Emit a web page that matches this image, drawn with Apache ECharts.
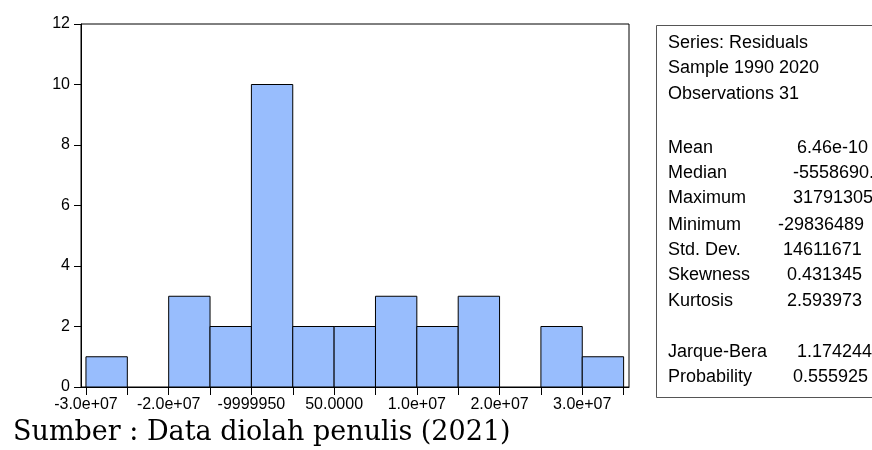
<!DOCTYPE html>
<html>
<head>
    <meta charset="utf-8" />
    <title>Histogram residuals</title>
    <script src="https://cdn.jsdelivr.net/npm/echarts@6/dist/echarts.min.js"></script>
    <style>
        body { margin: 0; background: #fff; }
    </style>
</head>
<body>
    <div id="main" style="width: 872px;height:450px;"></div>
    <script type="text/javascript">
        // bin edges (EViews bins, width 5e6)
        var binStarts = [-30000000, -25000000, -20000000, -15000000, -10000000, -5000000, 0,
            5000000, 10000000, 15000000, 20000000, 25000000, 30000000];
        var binEnds = [-25000000, -20000000, -15000000, -10000000, -5000000, 0, 5000000,
            10000000, 15000000, 20000000, 25000000, 30000000, 35000000];
        var counts = [1, 0, 3, 2, 10, 2, 2, 3, 2, 3, 0, 2, 1];

        var xTickValues = binStarts.concat([35000000]);
        var xLabelValues = [-30000000, -20000000, -10000000, 0, 10000000, 20000000, 30000000];
        var xLabelTexts = ['-3.0e+07', '-2.0e+07', '-9999950', '50.0000', '1.0e+07', '2.0e+07', '3.0e+07'];

        var statNames = ['Mean', 'Median', 'Maximum', 'Minimum', 'Std. Dev.', 'Skewness', 'Kurtosis', 'Jarque-Bera', 'Probability'];
        var statValues = ['6.46e-10', '-5558690.', '31791305', '-29836489', '14611671', '0.431345', '2.593973', '1.174244', '0.555925'];
        var headerLines = ['Series: Residuals', 'Sample 1990 2020', 'Observations 31'];

        var myChart = echarts.init(document.getElementById('main'));

        var data = [];
        for (var i = 0; i < counts.length; i++) {
            data.push([binStarts[i], binEnds[i], counts[i]]);
        }

        // stats box text
        var statY = [148, 173, 198, 225, 250, 275, 301, 352, 377];
        var statX = [797, 793, 793, 778, 783, 787, 787, 797, 793];
        var graphics = [{
            type: 'rect',
            shape: { x: 656.5, y: 25.5, width: 240, height: 372 },
            style: { fill: '#fff', stroke: '#555', lineWidth: 1 }
        }];
        headerLines.forEach(function (t, k) {
            graphics.push({
                type: 'text', x: 668, y: [43, 68, 94][k],
                style: { text: t, font: '18px "Liberation Sans", Arial', fill: '#000', verticalAlign: 'middle' }
            });
        });
        statNames.forEach(function (t, k) {
            graphics.push({
                type: 'text', x: 668, y: statY[k],
                style: { text: t, font: '18px "Liberation Sans", Arial', fill: '#000', verticalAlign: 'middle' }
            });
            graphics.push({
                type: 'text', x: statX[k], y: statY[k],
                style: { text: statValues[k], font: '18px "Liberation Sans", Arial', fill: '#000', verticalAlign: 'middle' }
            });
        });

        var option = {
            animation: false,
            title: {
                text: 'Sumber : Data diolah penulis (2021)',
                left: 8, top: 414,
                textStyle: { fontFamily: 'DejaVu Serif', fontSize: 27, fontWeight: 'normal', color: '#000' }
            },
            grid: {
                left: 81, right: 243, top: 24, bottom: 63,
                show: true, borderColor: '#000', borderWidth: 1, backgroundColor: '#fff'
            },
            xAxis: {
                type: 'value',
                min: -30600000, max: 35650000,
                splitLine: { show: false },
                axisLine: { onZero: false, lineStyle: { color: '#000' } },
                axisTick: { length: 8, lineStyle: { color: '#000' }, customValues: xTickValues },
                axisLabel: {
                    customValues: xLabelValues,
                    fontFamily: 'Liberation Sans', fontSize: 16, color: '#000', margin: 10,
                    formatter: function (v) {
                        var idx = xLabelValues.indexOf(v);
                        return idx >= 0 ? xLabelTexts[idx] : '';
                    }
                }
            },
            yAxis: {
                type: 'value',
                min: 0, max: 12, interval: 2,
                splitLine: { show: false },
                axisLine: { show: true, onZero: false, lineStyle: { color: '#000' } },
                axisTick: { show: true, length: 7, lineStyle: { color: '#000' } },
                axisLabel: { fontFamily: 'Liberation Sans', fontSize: 16, color: '#000', margin: 11 }
            },
            series: [{
                type: 'custom',
                data: data,
                encode: { x: [0, 1], y: 2 },
                renderItem: function (params, api) {
                    if (api.value(2) <= 0) return null;
                    var p0 = api.coord([api.value(0), 0]);
                    var p1 = api.coord([api.value(1), api.value(2)]);
                    return {
                        type: 'rect',
                        shape: { x: p0[0], y: p1[1], width: p1[0] - p0[0], height: p0[1] - p1[1] },
                        style: { fill: '#98bdfd', stroke: '#000', lineWidth: 1 }
                    };
                }
            }],
            graphic: graphics
        };

        myChart.setOption(option);
    </script>
</body>
</html>
